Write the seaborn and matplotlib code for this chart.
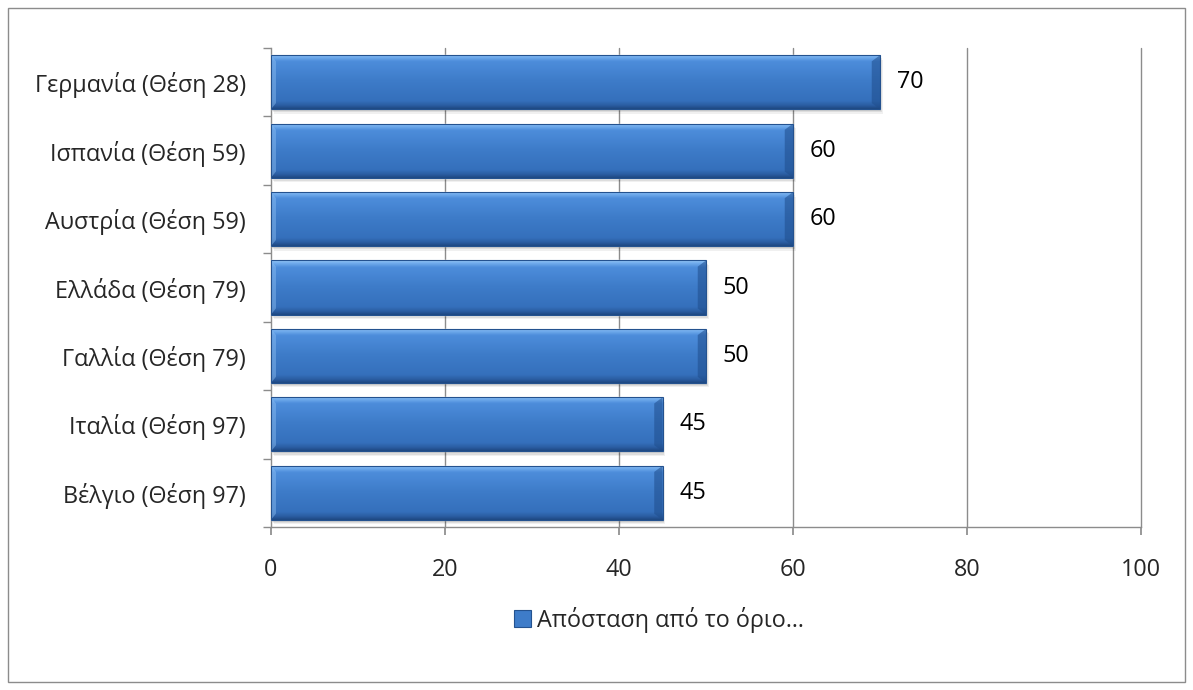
import matplotlib
matplotlib.use("Agg")
import matplotlib.pyplot as plt
import seaborn as sns
import numpy as np
import pandas as pd
from matplotlib.patches import Rectangle, Polygon
from matplotlib.colors import LinearSegmentedColormap

categories = ["Γερμανία (Θέση 28)", "Ισπανία (Θέση 59)", "Αυστρία (Θέση 59)",
              "Ελλάδα (Θέση 79)", "Γαλλία (Θέση 79)", "Ιταλία (Θέση 97)",
              "Βέλγιο (Θέση 97)"]
values = [70, 60, 60, 50, 50, 45, 45]
series_name = "Απόσταση από το όριο…"
xticks = [0, 20, 40, 60, 80, 100]

sns.set_theme(style="white")
plt.rcParams['font.family'] = ['Open Sans', 'DejaVu Sans']
FS = 16.8

df = pd.DataFrame({"cat": categories, "val": values})

fig = plt.figure(figsize=(11.93, 6.9), dpi=100)
ax = fig.add_axes([271/1193, 1-527/690, (1141-271)/1193, (527-48)/690])

sns.barplot(data=df, x="val", y="cat", orient="h", color="#3e7cc9",
            width=0.79, ax=ax, label=series_name, saturation=1, zorder=3)

ax.set_xlim(0, 100)
ax.set_ylim(len(categories)-0.5, -0.5)
ax.set_xticks(xticks)
ax.set_xlabel("")
ax.set_ylabel("")
ax.grid(False)
for xv in xticks[1:]:
    ax.axvline(xv, color="#8c8c8c", lw=1.0, zorder=1, clip_on=False)

for s in ["top", "right"]:
    ax.spines[s].set_visible(False)
for s in ["left", "bottom"]:
    ax.spines[s].set_color("#8c8c8c")
    ax.spines[s].set_linewidth(1.0)

ax.tick_params(axis="x", which="major", length=6, color="#8c8c8c", direction="out",
               labelsize=FS, pad=16, bottom=True)
ax.tick_params(axis="y", which="major", length=0, labelsize=FS, pad=18, left=False)
ax.set_yticks(range(len(categories)))
ax.set_yticks(np.arange(-0.5, len(categories), 1), minor=True)
ax.tick_params(axis="y", which="minor", length=6, color="#8c8c8c", direction="out", left=True)

cmap = LinearSegmentedColormap.from_list("bev", [
    (0.0, "#9ccbf8"), (0.05, "#74afee"), (0.13, "#4d8ddb"), (0.5, "#3d7bc8"),
    (0.85, "#3570bc"), (0.93, "#2b5ea3"), (1.0, "#1e4881")])
grad = np.linspace(0, 1, 256).reshape(-1, 1)

bx = 0.95   # bevel width in data units
by = 0.09   # bevel height in data units
for p in list(ax.patches):
    x0, y0 = p.get_x(), p.get_y()
    w, h = p.get_width(), p.get_height()
    x1, y1 = x0 + w, y0 + h
    for k, a in [(0.55, 0.06), (0.38, 0.08), (0.22, 0.12)]:
        ax.add_patch(Rectangle((x0 + k * 0.6, y0 + k * 0.12), w, h, facecolor="#000000",
                               alpha=a, edgecolor="none", zorder=2))
    im = ax.imshow(grad, cmap=cmap, aspect="auto", extent=[x0, x1, y1, y0],
                   zorder=4, interpolation="bilinear")
    im.set_clip_path(p)
    ax.add_patch(Polygon([(x1 - bx, y0 + by), (x1, y0), (x1, y1), (x1 - bx, y1 - by)],
                         closed=True, facecolor="#1f4d8c", alpha=0.55, edgecolor="none", zorder=5))
    ax.add_patch(Polygon([(x0, y0), (x0 + bx * 0.6, y0 + by), (x0 + bx * 0.6, y1 - by), (x0, y1)],
                         closed=True, facecolor="#8fc0f2", alpha=0.45, edgecolor="none", zorder=5))
    ax.add_patch(Rectangle((x0, y0), w, h, facecolor="none", edgecolor="#24528f",
                           lw=0.8, zorder=6))
    ax.text(x1 + 1.9, y0 + h / 2, f"{w:g}", va="center", ha="left",
            fontsize=FS, color="#000000", zorder=7)
ax.set_ylim(len(categories)-0.5, -0.5)

leg = ax.legend(loc="center", bbox_to_anchor=((659-271)/870, -(620-527)/479), frameon=False,
                fontsize=FS, handlelength=0.75, handleheight=0.75, handletextpad=0.25)
for hnd in leg.legend_handles:
    hnd.set_edgecolor("#24528f")
    hnd.set_linewidth(0.8)

fig.patches.append(Rectangle((8/1193, 8/690), 1-16/1193, 1-16/690, transform=fig.transFigure,
                             fill=False, edgecolor="#8c8c8c", lw=1.0))

fig.savefig("out.png", dpi=100)
